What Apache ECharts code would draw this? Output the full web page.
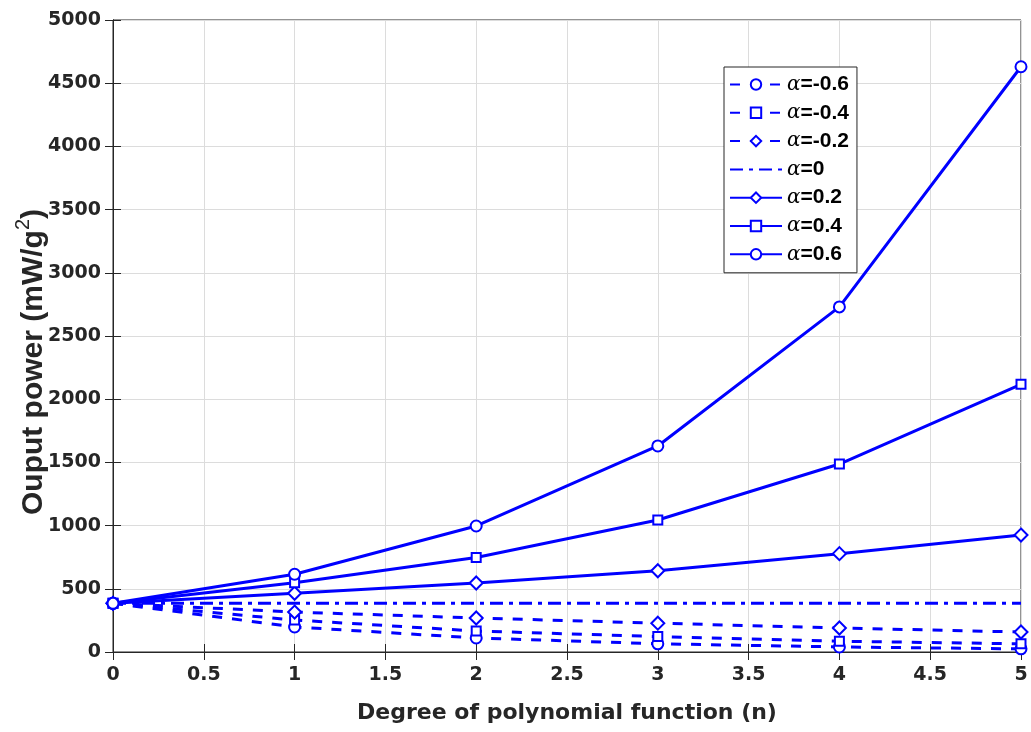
<!DOCTYPE html>
<html>
<head>
<meta charset="utf-8">
<script src="https://cdn.jsdelivr.net/npm/echarts@6/dist/echarts.min.js"></script>
<style>
  html, body { margin: 0; padding: 0; background: #fff; }
  #chart { width: 1031px; height: 732px; }
</style>
</head>
<body>
<div id="chart"></div>
<script>
// Degree of polynomial function n
const degrees = [0, 1, 2, 3, 4, 5];

// Output power (mW/g^2) for each alpha
const alphaNeg06 = [385, 198, 111, 65, 40, 25];
const alphaNeg04 = [385, 253, 166, 122, 85, 65];
const alphaNeg02 = [385, 316, 269, 228, 190, 158];
const alphaZero  = [385, 385, 385, 385, 385, 385];
const alphaPos02 = [385, 465, 546, 643, 778, 925];
const alphaPos04 = [385, 548, 748, 1044, 1487, 2118];
const alphaPos06 = [385, 615, 997, 1630, 2730, 4630];

const alphaLabels = ['-0.6', '-0.4', '-0.2', '0', '0.2', '0.4', '0.6'];

const xTitle = 'Degree of polynomial function (n)';
const yTitle = ['Ouput power (mW/g', '2', ')'];

const BLUE = '#0000ff';
const DASH = [10, 10];
const DASHDOT = [13, 6, 4, 6];
const TICK_FONT = 'DejaVu Sans, Liberation Sans, sans-serif';
const SANS = 'Liberation Sans, Arial, sans-serif';

function pairs(values) {
  return degrees.map((d, i) => [d, values[i]]);
}

function makeSeries(label, values, symbol, size, lineType) {
  return {
    name: label,
    type: 'line',
    data: pairs(values),
    symbol: symbol,
    symbolSize: size,
    showSymbol: symbol !== 'none',
    lineStyle: { color: BLUE, width: 3, type: lineType },
    itemStyle: { color: BLUE, borderColor: BLUE, borderWidth: 2.5 },
    emphasis: { disabled: true },
    animation: false,
    z: 3
  };
}

const series = [
  makeSeries(alphaLabels[0], alphaNeg06, 'emptyCircle', 11, DASH),
  makeSeries(alphaLabels[1], alphaNeg04, 'emptyRect', 9, DASH),
  makeSeries(alphaLabels[2], alphaNeg02, 'emptyDiamond', 13, DASH),
  makeSeries(alphaLabels[3], alphaZero, 'none', 0, DASHDOT),
  makeSeries(alphaLabels[4], alphaPos02, 'emptyDiamond', 13, 'solid'),
  makeSeries(alphaLabels[5], alphaPos04, 'emptyRect', 9, 'solid'),
  makeSeries(alphaLabels[6], alphaPos06, 'emptyCircle', 11, 'solid')
];

const legendData = alphaLabels.map(name => name === '0'
  ? { name: name, itemStyle: { color: 'transparent', borderColor: 'transparent', opacity: 0 } }
  : { name: name });

const tickLabel = {
  color: '#262626',
  fontFamily: TICK_FONT,
  fontWeight: 'bold',
  fontSize: 19
};

const frameAxis = {
  axisLine: { show: true, lineStyle: { color: '#262626', width: 1 } },
  axisTick: { show: true, inside: true, length: 8, lineStyle: { color: '#262626' } },
  axisLabel: { show: false },
  splitLine: { show: false }
};

const chart = echarts.init(document.getElementById('chart'), null, { renderer: 'canvas' });

chart.setOption({
  backgroundColor: '#ffffff',
  animation: false,
  grid: {
    left: 113, right: 10, top: 20, bottom: 80,
    show: true, borderColor: '#262626', borderWidth: 1, backgroundColor: '#ffffff'
  },
  legend: {
    orient: 'vertical',
    left: 724, top: 67,
    itemWidth: 52, itemHeight: 13, itemGap: 7.3,
    padding: [7, 8, 8, 5],
    backgroundColor: '#ffffff',
    borderColor: '#262626', borderWidth: 1,
    data: legendData,
    formatter: name => '{a|α}{b|=' + name + '}',
    textStyle: {
      padding: [0, 0, 0, 0],
      rich: {
        a: { fontFamily: 'DejaVu Serif, Liberation Serif, serif', fontStyle: 'italic', fontSize: 20, color: '#000', lineHeight: 20 },
        b: { fontFamily: SANS, fontWeight: 'bold', fontSize: 21, color: '#000', lineHeight: 20 }
      }
    }
  },
  graphic: [{
    type: 'text',
    x: 567, y: 713,
    style: {
      text: xTitle,
      x: 0, y: 0,
      fill: '#262626',
      font: 'bold 22px ' + TICK_FONT,
      textAlign: 'center',
      textVerticalAlign: 'middle'
    },
    silent: true
  }, {
    type: 'text',
    x: 31, y: 362,
    rotation: Math.PI / 2,
    style: {
      text: '{t|' + yTitle[0] + '}{s|' + yTitle[1] + '}{t|' + yTitle[2] + '}',
      x: 0, y: 0,
      align: 'center',
      verticalAlign: 'middle',
      rich: {
        t: { fill: '#262626', fontFamily: SANS, fontWeight: 'bold', fontSize: 30, lineHeight: 36, verticalAlign: 'bottom' },
        s: { fill: '#262626', fontFamily: SANS, fontWeight: 'normal', fontSize: 20, lineHeight: 36, verticalAlign: 'top', padding: [0, 0, 14, 0] }
      }
    },
    silent: true
  }],
  xAxis: [{
    type: 'value', min: 0, max: 5, interval: 0.5,
    position: 'bottom',
    axisLine: { show: true, lineStyle: { color: '#262626', width: 1 } },
    axisTick: { show: true, inside: true, length: 8, lineStyle: { color: '#262626' } },
    axisLabel: Object.assign({}, tickLabel, { margin: 14, formatter: v => String(v) }),
    splitLine: { show: true, lineStyle: { color: '#dcdcdc', width: 1 } }
  }, Object.assign({ type: 'value', min: 0, max: 5, interval: 0.5, position: 'top' }, frameAxis)],
  yAxis: [{
    type: 'value', min: 0, max: 5000, interval: 500,
    position: 'left',
    axisLine: { show: true, lineStyle: { color: '#262626', width: 1 } },
    axisTick: { show: true, inside: true, length: 8, lineStyle: { color: '#262626' } },
    axisLabel: Object.assign({}, tickLabel, { margin: 12, formatter: v => String(v) }),
    splitLine: { show: true, lineStyle: { color: '#dcdcdc', width: 1 } }
  }, Object.assign({ type: 'value', min: 0, max: 5000, interval: 500, position: 'right' }, frameAxis)],
  series: series
});
</script>
</body>
</html>
